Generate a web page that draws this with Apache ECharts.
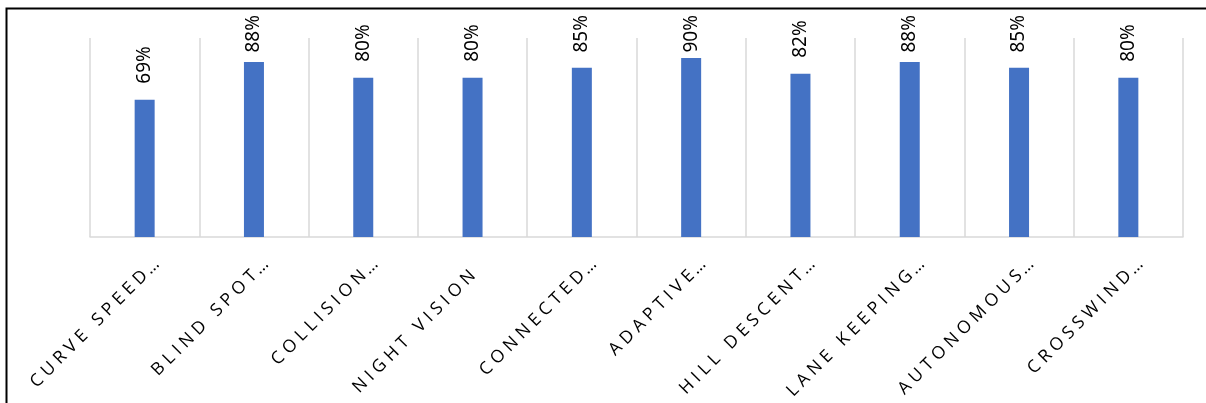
<!DOCTYPE html>
<html>
<head>
<meta charset="utf-8">
<script src="https://cdn.jsdelivr.net/npm/echarts@6/dist/echarts.min.js"></script>
<style>
  html, body { margin: 0; padding: 0; background: #fff; }
  #main { width: 1206px; height: 403px; }
</style>
</head>
<body>
<div id="main"></div>
<script>
// 类别（Excel 截断后的标签）
var categories = ['CURVE SPEED…', 'BLIND SPOT…', 'COLLISION…', 'NIGHT VISION', 'CONNECTED…',
  'ADAPTIVE…', 'HILL DESCENT…', 'LANE KEEPING…', 'AUTONOMOUS…', 'CROSSWIND…'];
// 百分比
var values = [69, 88, 80, 80, 85, 90, 82, 88, 85, 80];

var myChart = echarts.init(document.getElementById('main'));

// 字母间距 - canvas 没有 letter-spacing，用细空格代替
// 省略号悬在外面，没有省略号的补一个透明的，保证对齐
function spaced(s) {
  var hasDots = s.charAt(s.length - 1) == '…';
  var main = hasDots ? s.slice(0, -1) : s;
  var txt = main.split('').join('\u2009\u200A');
  return txt + (hasDots ? '{e|\u2009…}' : '{h|\u2009…}');
}

var labelFont = { fontFamily: 'Open Sans', fontSize: 17.5 };

myChart.setOption({
  animation: false,
  grid: { left: 90, right: 23, top: 38, bottom: 166 },
  xAxis: {
    type: 'category',
    data: categories,
    axisTick: { show: false },
    axisLine: { lineStyle: { color: '#d9d9d9', width: 1.5 } },
    splitLine: { show: true, lineStyle: { color: '#d9d9d9', width: 1.5 } },
    axisLabel: {
      interval: 0,
      rotate: 45,
      margin: 4,
      align: 'right',
      verticalAlign: 'top',
      padding: [14, 6, 0, 0],
      fontFamily: labelFont.fontFamily,
      fontSize: labelFont.fontSize,
      color: '#000',
      formatter: function (v) { return spaced(v); },
      rich: {
        e: { fontFamily: labelFont.fontFamily, fontSize: labelFont.fontSize, color: '#000' },
        h: { fontFamily: labelFont.fontFamily, fontSize: labelFont.fontSize, color: 'rgba(0,0,0,0)' }
      }
    }
  },
  yAxis: {
    type: 'value',
    min: 0,
    max: 100,
    show: false,
    splitLine: { show: false }
  },
  series: [{
    type: 'bar',
    data: values,
    barWidth: 20,
    itemStyle: { color: '#4472c4' },
    label: {
      show: true,
      position: 'top',
      rotate: 90,
      align: 'left',
      verticalAlign: 'middle',
      distance: 16,
      fontFamily: 'Noto Sans',
      fontSize: 19,
      color: '#000',
      formatter: '{c}%'
    },
    // 标签顶到图表上边时往下挤（跟 Excel 一样）
    labelLayout: function (params) {
      var r = params.labelRect;
      if (r.y < 15) {
        return { y: 15 + r.height };
      }
    }
  }],
  graphic: [{
    type: 'rect',
    silent: true,
    shape: { x: 6.5, y: 8.5, width: 1400, height: 600 },
    style: { fill: 'none', stroke: '#000', lineWidth: 2 }
  }]
});
</script>
</body>
</html>
